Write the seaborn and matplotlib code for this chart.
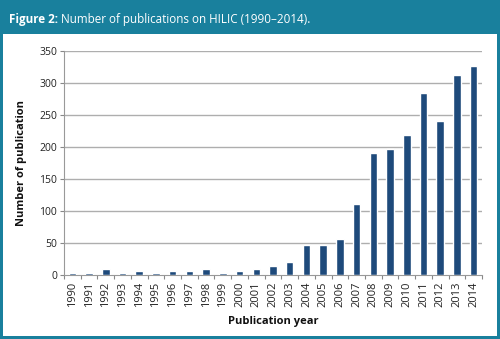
import matplotlib
matplotlib.use("Agg")
import matplotlib.pyplot as plt
import seaborn as sns
import pandas as pd
import numpy as np
from matplotlib.patches import Rectangle

# Publications per year
years = [str(y) for y in range(1990, 2015)]
counts = [3, 3, 9, 3, 6, 3, 7, 7, 9, 3, 6, 10, 14, 21, 47, 47, 57, 111,
          190, 197, 219, 284, 241, 312, 327]
yticks = [0, 50, 100, 150, 200, 250, 300, 350]

title_bold = "Figure 2:"
title_rest = " Number of publications on HILIC (1990\u20132014)."
xlabel = "Publication year"
ylabel = "Number of publication"

teal = "#19809d"
bar_color = "#1e4a7b"
grid_color = "#aeaeae"

sns.set_theme(style="white")
plt.rcParams["font.family"] = ["Open Sans", "DejaVu Sans"]

fig = plt.figure(figsize=(5.0, 3.39), dpi=100, facecolor=teal)

# white panel under the header
fig.patches.append(Rectangle((3 / 500, 3 / 339), 494 / 500, 302 / 339,
                             transform=fig.transFigure, facecolor="white",
                             edgecolor="none", zorder=-10))

t = fig.text(9 / 500, 1 - 19 / 339, title_bold, color="white", fontsize=8.4,
             fontweight="bold", va="center", ha="left")
fig.canvas.draw()
bb = t.get_window_extent()
x_next = bb.x1 / fig.bbox.width
fig.text(x_next, 1 - 19 / 339, title_rest, color="white", fontsize=8.4,
         va="center", ha="left")

ax = fig.add_axes([64 / 500, 64 / 339, 418 / 500, 224 / 339])
ax.set_facecolor("white")

df = pd.DataFrame({"year": years, "count": counts})
sns.barplot(data=df, x="year", y="count", color=bar_color, width=0.45,
            saturation=1, ax=ax, zorder=3)

ax.set_ylim(0, 350)
ax.set_xlim(-0.5, len(years) - 0.5)
ax.set_yticks(yticks)
for v in yticks[1:]:
    ax.axhline(v, color=grid_color, lw=1.0, zorder=1)

ax.tick_params(axis="y", which="major", length=3, width=0.8, color="#888888",
               labelsize=7.5, pad=2, labelcolor="#222222", left=True)
ax.tick_params(axis="x", which="major", length=0, labelsize=8, pad=5,
               labelrotation=90, labelcolor="#222222")
ax.set_xticks(np.arange(-0.5, len(years), 1.0), minor=True)
ax.tick_params(axis="x", which="minor", length=3, width=0.8, color="#888888",
               bottom=True)

for s in ["top", "right"]:
    ax.spines[s].set_visible(False)
for s in ["left", "bottom"]:
    ax.spines[s].set_color("#999999")
    ax.spines[s].set_linewidth(0.8)

ax.set_xlabel(xlabel, fontsize=8, fontweight="bold", color="#111111",
              labelpad=6)
ax.set_ylabel(ylabel, fontsize=8, fontweight="bold", color="#111111",
              labelpad=9)

fig.savefig("out.png", dpi=100, facecolor=teal)
